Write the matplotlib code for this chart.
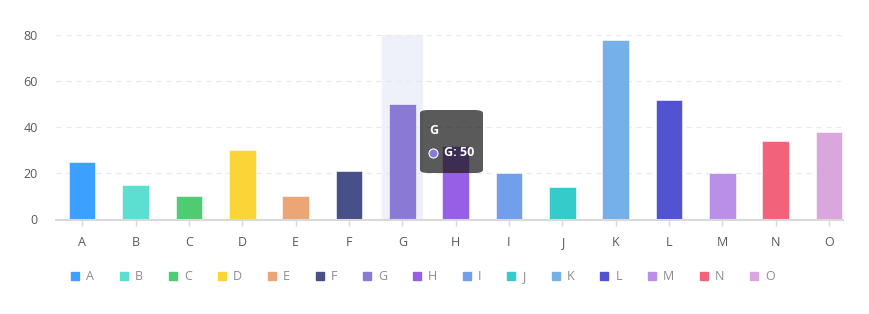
import matplotlib.pyplot as plt
from matplotlib.patches import FancyBboxPatch
from matplotlib.lines import Line2D

categories = ['A', 'B', 'C', 'D', 'E', 'F', 'G', 'H', 'I', 'J', 'K', 'L', 'M', 'N', 'O']
values = [25, 15, 10, 30, 10, 21, 50, 32, 20, 14, 78, 52, 20, 34, 38]
colors = ['#3ba0ff', '#5cdfd0', '#4ecb73', '#fbd437', '#eaa674', '#475089', '#8a7ad6',
          '#975fe5', '#729fec', '#36cbcb', '#76b0e8', '#5153d0', '#ba8fe8', '#f2637b', '#d9a6de']
yticks = [0, 20, 40, 60, 80]
active = 'G'

plt.rcParams['font.family'] = ['Open Sans', 'DejaVu Sans']

fig = plt.figure(figsize=(8.7, 3.14), dpi=100)
ax = fig.add_axes([56 / 870, 1 - 219.5 / 314, (843 - 56) / 870, 184.5 / 314])

x = list(range(len(categories)))
ai = categories.index(active)
ax.axvspan(ai - 0.375, ai + 0.375, ymin=0, ymax=1, color='#eef1fa', zorder=0)
ax.bar(x, values, width=0.5, color=colors, edgecolor='white', linewidth=0.4, zorder=2)

ax.set_xlim(-0.49, 14.26)
ax.set_ylim(0, 80)
ax.set_yticks(yticks)
ax.set_xticks(x)
ax.set_xticklabels(categories)
ax.grid(axis='y', linestyle=(0, (4, 4)), color='#e8e8e8', linewidth=0.9, zorder=0)
for s in ['top', 'right', 'left']:
    ax.spines[s].set_visible(False)
ax.spines['bottom'].set_color('#d9d9d9')
ax.spines['bottom'].set_linewidth(1.5)
ax.tick_params(axis='y', length=0, pad=13, labelsize=9, labelcolor='#595959')
ax.tick_params(axis='x', length=4, width=1, color='#d9d9d9', pad=8, labelsize=9, labelcolor='#595959')

handles = [Line2D([], [], marker='s', linestyle='none', markersize=6, color=c) for c in colors]
fig.legend(handles, categories, loc='center left', bbox_to_anchor=(71.5 / 870, 1 - 277 / 314),
           ncol=len(categories), frameon=False, fontsize=9, labelcolor='#8c8c8c',
           handlelength=0.6, handletextpad=0.6, columnspacing=2.07, borderaxespad=0, borderpad=0)

# tooltip
tx0, ty0, tw, th = 420 / 870, 1 - 173 / 314, 63 / 870, 63 / 314
fig.patches.append(FancyBboxPatch((tx0, ty0), tw, th, boxstyle='round,pad=0,rounding_size=0.01',
                                  transform=fig.transFigure, facecolor='#1a1a1a', alpha=0.72,
                                  edgecolor='none', zorder=5))
fig.text(429 / 870, 1 - 130 / 314, active, color='white', fontsize=9, fontweight='bold',
         va='center', ha='left', zorder=6)
fig.add_artist(Line2D([433.5 / 870], [1 - 153 / 314], marker='o', markersize=6.5,
                      markerfacecolor=colors[ai], markeredgecolor='white', markeredgewidth=0.8,
                      transform=fig.transFigure, zorder=6))
fig.text(443.5 / 870, 1 - 153 / 314, f'{active}: {values[ai]}', color='white', fontsize=9,
         fontweight='bold', va='center', ha='left', zorder=6)

fig.savefig('out.png', dpi=100, facecolor='white')
